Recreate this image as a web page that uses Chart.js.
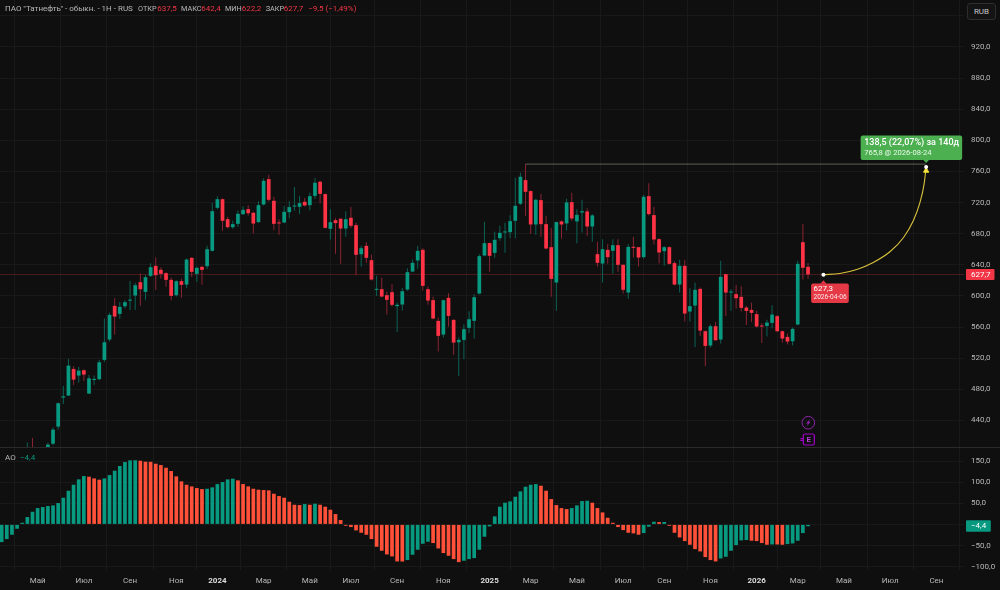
<!DOCTYPE html>
<html lang="ru">
<head>
<meta charset="utf-8">
<title>ПАО "Татнефть" - обыкн.</title>
<script src="https://cdn.jsdelivr.net/npm/chart.js@4"></script>
<style>
  html, body { margin: 0; padding: 0; background: #0f0f0f; }
  #wrap { position: relative; width: 1000px; height: 590px; overflow: hidden; font-family: Roboto, sans-serif; }
  canvas { position: absolute; left: 0; }
  #priceChart { top: 0; }
  #aoChart { top: 448px; }
  #sep { position: absolute; left: 0; top: 447px; width: 1000px; height: 1px; background: #2a2a2a; }
  .t { position: absolute; font-size: 8px; line-height: 12px; white-space: nowrap; color: #b8b8b8; }
  .c { font-size: 7.3px; }
  .red { color: #f23645; }
  .green { color: #089981; }
  #rub { position: absolute; left: 967px; top: 3px; width: 29px; height: 17px; line-height: 15px; box-sizing: border-box;
         border: 1px solid #2e2e2e; border-radius: 3px; background: #141414; color: #c8c8c8; font-size: 8px; text-align: center; }
</style>
</head>
<body>
<div id="wrap">
  <canvas id="priceChart" width="1000" height="448"></canvas>
  <canvas id="aoChart" width="1000" height="142"></canvas>
  <div id="sep"></div>
  <div class="t" style="left:5px;top:3px">ПАО "Татнефть" - обыкн. - 1Н - RUS</div>
  <div class="t c" style="left:138px;top:3px">ОТКР</div><div class="t red" style="left:157.3px;top:3px">637,5</div>
  <div class="t c" style="left:181px;top:3px">МАКС</div><div class="t red" style="left:201.3px;top:3px">642,4</div>
  <div class="t c" style="left:225px;top:3px">МИН</div><div class="t red" style="left:241.7px;top:3px">622,2</div>
  <div class="t c" style="left:265.7px;top:3px">ЗАКР</div><div class="t red" style="left:283.7px;top:3px">627,7</div>
  <div class="t red" style="left:308.3px;top:3px">−9,5 (−1,49%)</div>
  <div class="t" style="left:5px;top:452px">AO</div><div class="t green" style="left:20px;top:452px">−4,4</div>
  <div id="rub">RUB</div>
</div>
<script>
// weekly candles
const opens = [
  372,375,378,383,389,394,403,402,399,403.8,
  410.2,432.1,469.4,472,506.2,497.7,504.5,474.5,492,493,
  517.8,544,587.3,577,586.8,594,600.6,617.7,605.3,625.8,
  638.7,633.6,629.3,620.7,601,619,614.7,649,628.4,637.4,
  638.3,658,713.3,724.4,698.7,688.4,692.7,705.1,711.6,706.9,
  694.9,717.6,750.2,722.3,694,694.4,707.7,715,714.6,721,
  716.7,728.7,746.8,730.9,686.3,697.4,699.2,686.7,700.5,691,
  653.7,664.4,646,607.9,608.7,601,604.9,586.9,589,608.3,
  631.4,645.6,659.3,608.7,594.6,568,550.4,597.6,569.3,540.5,
  543.5,559,568,603.1,652,667.9,655.4,674.3,681.6,682,
  696.6,718.5,748.9,734.8,691.9,723.2,692.3,662.7,617.3,695.8,
  693.2,720.6,695.8,707.3,708.6,689.3,653.7,641.7,659.3,658,
  665.3,640,604.4,663.1,662.7,649.9,728.3,703.9,673,657.6,
  662.7,642.2,614.7,638.7,580,587.7,609.1,554.7,536.3,561.1,
  544,628,604.4,602.3,598.9,585.1,582.1,576.6,561.5,561.5,
  565.4,574,554.7,547.4,541.8,563.3,669.1,637.5
];
const highs = [
  378,381,386,392,396,411.6,417.5,406,406,411.5,
  430.8,463,484.4,519.1,509.7,508.8,505.8,498.5,497.7,517.8,
  571,578.3,597.1,592.4,594.6,619.4,617,628.8,627,642.1,
  649.4,637,630.6,623.3,620.3,622,648.6,649.8,637.8,638.7,
  664.4,719.7,728.3,725.3,701.7,696.6,709.9,715.4,716.7,708.1,
  721.9,751.4,755.7,727.5,698.7,715.5,721.9,739.9,728.7,725.8,
  732.6,751.5,748,731.7,711.6,700,700,709,714.2,694,
  664.4,669.1,652.9,625.9,623.3,605.3,615.1,591.6,610.4,635.7,
  646.9,664.4,661.4,611.7,598.9,572.3,595,603.6,570.1,546.5,
  563.7,580.4,602.3,653.7,695.3,668.7,682.4,690.2,694,703.9,
  751.9,758.3,769.5,735.6,724.9,730.9,703,687.2,695.8,697,
  724.9,732.6,711.6,723.6,712.9,705.2,669.6,673,666.6,673,
  673,640.9,666.6,676,663,730,745,714.6,673.9,664,
  663.6,644.7,646.4,646.4,610,616.9,610.8,555.5,563.3,566.7,
  645.2,628,608.7,614.3,612.6,587.3,591.2,580.9,565,569.3,
  588.1,575.7,555.5,551.7,559.4,645.2,692.7,642.4
];
const lows = [
  366,370,374,380,385,390,392,396,396,400,
  408.5,428.2,461.2,471.5,485.7,488.7,490.8,474,485.7,492,
  515.2,541.4,550.4,570.6,583.8,582,582,587.3,594.6,624.5,
  607.8,622.4,611.7,594.6,599.3,597.6,610.4,624.5,618.1,614.3,
  634.8,657.1,711.6,683.7,686.7,686.3,688.9,704.3,703.4,680.3,
  694,716.3,721.4,684.6,678.6,693.6,700,709.5,705.2,715,
  710.3,724.5,719.3,686.7,672.6,654.2,641.3,676,687.2,626.7,
  637.4,642.6,619.9,600.1,598.4,576.1,586.4,553.8,581.3,606.6,
  630.6,634.9,607,588.6,570.1,528.5,546.5,560.3,524.3,497.2,
  518.7,552.5,545.3,602.3,651.2,631,649,670.9,655.4,674.3,
  674.3,716.8,703,679.5,678.6,676,660,598.9,580.9,673.4,
  684.2,696.6,667.9,681.6,677.3,669.6,637.4,617.3,641.3,628.4,
  631,603.2,596.3,649.4,637.9,647.7,703.5,666.2,641.7,638.7,
  640.4,613.9,604.4,567.1,567.1,534.5,548.7,510.1,533.7,542.3,
  538.8,574.4,580.9,583.8,580,562.8,566.7,559.4,539.7,547.8,
  558.1,553.8,540.1,537.5,536.3,562.4,621.1,622.2
];
const closes = [
  375,378,383,389,393,403,398,399,403,409,
  428.2,462.1,471,510.5,492.5,504.1,499,494.2,493.4,514.8,
  540.5,575.7,573.6,586,592,595,613.8,608.7,624.1,637,
  626.7,628.4,620.7,600.1,619,614.3,646.8,631,636.1,633.6,
  660.1,709,724.4,696.6,688.4,692.3,705.6,710.7,706.4,693.1,
  716.7,748,723.6,692.7,693.2,708.2,714.2,715.9,719.3,716.3,
  728.3,745.5,731.3,687.6,694.9,693.6,686.7,698.7,690.2,652.9,
  661.4,649,621.1,609.1,599.3,595,588.6,588.6,606.1,630.6,
  642.6,658,613,594.1,571,548.7,594.6,574.4,540.1,543.5,
  557.3,570.1,598.4,651.2,667.9,651.6,672.2,681.2,682.9,696.2,
  715.9,753.2,733.9,691.9,723.6,692.3,661,622,694.9,691.9,
  720.2,699.6,704.3,709,689.3,703.5,642.6,660.1,649.9,665.3,
  640,607.9,663.1,661.9,649.4,727.5,705.2,672.6,655.9,662.7,
  641.3,614.7,638.7,577.4,586.9,607.9,555.5,535.8,561.1,543.1,
  624.6,604.4,605.3,597.1,584.7,580.8,578.3,560.7,560.7,565.8,
  576.1,554.7,545.3,541.4,557.7,641.3,636.2,627.7
];
// awesome oscillator
const aoValues = [
  -41.9,-34.8,-24.5,-10.3,4,17.4,30,38.7,41.1,43.5,
  45,50.6,63.2,79.8,94,106.7,114.6,113,109,105.9,
  109,116.9,127.2,138.3,147.7,151.7,151.9,150.9,148.5,148.3,
  143.8,140.6,134.3,126.4,113.8,101.9,94,90,86.1,83.7,
  84.5,87.7,95.6,100.3,106.7,108.2,104.3,95.6,90,84.5,
  82.2,81.4,80.6,72.7,67.2,63.2,53.7,46.6,45.8,48.2,
  46.6,49,46.6,41.9,34.8,24.5,10.3,-3.2,-6.3,-14.2,
  -19.8,-24.5,-34.8,-52.9,-62.4,-71.1,-75.8,-87.7,-87.9,-84.5,
  -71.9,-60,-45.8,-41.1,-44.2,-56.9,-67.9,-74.3,-82.2,-89.3,
  -86.1,-82.2,-79.8,-60,-29.2,-4.7,19,41.9,51.4,54.5,
  65.6,78.2,89.3,94,95.6,91.6,79.8,60,45.8,38.7,
  36.3,38.7,45,55.3,56.1,51.4,38.7,28.4,15.8,4,
  -6.3,-13.4,-19.8,-21.3,-24.5,-20.5,-5.5,6.3,5.5,5.8,
  -3.2,-19.8,-30.8,-39.5,-48.2,-58.5,-64,-77.4,-84.5,-87.7,
  -80.6,-76.6,-62.4,-49,-37.9,-37.1,-38.7,-39.5,-44.2,-48.2,
  -47.4,-47.5,-48.2,-46.6,-45,-38.7,-20.5,-4.4
];
const xTickIndex = [7,16,25,34,42,51,60,68,77,86,95,103,112,121,129,138,147,155,164,173,182];
const xTickLabels = ['Май','Июл','Сен','Ноя','2024','Мар','Май','Июл','Сен','Ноя','2025','Мар','Май','Июл','Сен','Ноя','2026','Мар','Май','Июл','Сен'];
const lastClose = 627.7;
const lastAo = -4.4;
// forecast drawing
const arcX = [160,163.2,166.5,169.7,173,175.6,177.5,178.8,179.6,180];
const arcY = [627.3,628.9,634,643,657.1,675.2,696.6,720.2,743.8,765.8];
const levelX = [102,180];
const levelY = [769.5,769.5];

const UP = '#089981', DOWN = '#ff3346';
const UP_WICK = '#0b6356', DOWN_WICK = '#8a2433';
const AO_UP = '#089981', AO_DOWN = '#ff5039';
const TXT = '#b8b8b8', GRID = '#191919';
const FONT = 'Roboto, sans-serif';
const X_MIN = -0.325, X_MAX = 187.37;

function fmt(v) {
  return v.toFixed(1).replace('.', ',').replace('-', '−');
}
const indexes = opens.map((o, i) => i);
const isYear = (c) => !!c.tick && /^20/.test(c.tick.label);

function fixedAxis(scale, size) {
  if (scale.isHorizontal()) scale.height = size; else scale.width = size;
  scale.paddingLeft = scale.paddingRight = scale.paddingTop = scale.paddingBottom = 0;
}

function xAxis(showLabels) {
  return {
    type: 'linear', min: X_MIN, max: X_MAX, offset: false,
    border: { display: false },
    grid: { color: GRID, drawTicks: false },
    afterBuildTicks: (axis) => { axis.ticks = xTickIndex.map(v => ({ value: v })); },
    afterFit: (scale) => fixedAxis(scale, showLabels ? 20 : 0),
    ticks: {
      display: showLabels, autoSkip: false, maxRotation: 0, padding: 6,
      callback: (v, i) => xTickLabels[i],
      color: (c) => isYear(c) ? '#dcdcdc' : TXT,
      font: (c) => ({ family: FONT, size: 8, weight: isYear(c) ? 'bold' : 'normal' })
    }
  };
}

function yAxis(min, max, step, hidden) {
  return {
    position: 'right', min: min, max: max,
    border: { display: false },
    grid: { color: GRID, drawTicks: false },
    afterFit: (scale) => fixedAxis(scale, 36),
    ticks: {
      stepSize: step, includeBounds: false, padding: 7, align: 'center', crossAlign: 'near',
      color: TXT, font: { family: FONT, size: 8 },
      callback: (v) => v === hidden ? '' : fmt(v)
    }
  };
}

function tag(ctx, x, y, w, h, r, color) {
  ctx.fillStyle = color;
  ctx.beginPath();
  ctx.roundRect(x, y, w, h, r);
  ctx.fill();
}

function label(ctx, text, x, y, font, color, align) {
  ctx.font = font;
  ctx.fillStyle = color;
  ctx.textAlign = align || 'left';
  ctx.textBaseline = 'middle';
  ctx.fillText(text, x, y);
}

const priceLabels = {
  id: 'priceLabels',
  afterDraw(chart) {
    const ctx = chart.ctx, xs = chart.scales.x, ys = chart.scales.y;
    ctx.save();

    // last price on the axis
    const py = ys.getPixelForValue(lastClose);
    tag(ctx, 966, py - 5.5, 28.5, 11, 1, '#f23645');
    label(ctx, fmt(lastClose), 971, py + 0.3, '8px ' + FONT, '#fff');

    // forecast end box
    const ex = xs.getPixelForValue(arcX[arcX.length - 1]);
    const ey = ys.getPixelForValue(arcY[arcY.length - 1]);
    tag(ctx, ex - 65.5, ey - 31.5, 101.5, 24.5, 2, '#4caf50');
    ctx.beginPath();
    ctx.moveTo(ex - 3, ey - 7.2); ctx.lineTo(ex + 3, ey - 7.2); ctx.lineTo(ex, ey - 4);
    ctx.fill();
    label(ctx, '138,5 (22,07%) за 140д', ex - 62, ey - 24.3, '500 9px ' + FONT, '#fff');
    label(ctx, '765,8 @ 2026-08-24', ex - 62, ey - 14.3, '7.6px ' + FONT, '#eafbea');

    // forecast start box
    const sx = xs.getPixelForValue(arcX[0]);
    const sy = ys.getPixelForValue(arcY[0]);
    tag(ctx, sx - 12.3, sy + 8.8, 37.7, 19.4, 2, '#e53946');
    ctx.beginPath();
    ctx.moveTo(sx - 3, sy + 9); ctx.lineTo(sx + 3, sy + 9); ctx.lineTo(sx, sy + 5.5);
    ctx.fill();
    label(ctx, '627,3', sx - 10, sy + 14, '8px ' + FONT, '#fff');
    label(ctx, '2026-04-06', sx - 10, sy + 22.6, '6.6px ' + FONT, '#fde6e8');

    // event marks over the last candle
    const mx = xs.getPixelForValue(opens.length - 1) + 0.3;
    ctx.strokeStyle = '#8e24aa';
    ctx.lineWidth = 1;
    ctx.beginPath();
    ctx.arc(mx, 422.7, 6.3, 0, Math.PI * 2);
    ctx.stroke();
    ctx.fillStyle = '#8e24aa';
    ctx.beginPath();
    ctx.moveTo(mx + 2.2, 418.6); ctx.lineTo(mx - 2.4, 423.6); ctx.lineTo(mx - 0.2, 423.6);
    ctx.lineTo(mx - 2, 426.8); ctx.lineTo(mx + 2.4, 421.8); ctx.lineTo(mx + 0.2, 421.8);
    ctx.closePath();
    ctx.fill();

    ctx.strokeStyle = '#a000c8';
    ctx.lineWidth = 1.2;
    ctx.beginPath();
    ctx.roundRect(mx - 5, 434, 11, 11, 1.5);
    ctx.moveTo(mx - 8, 438.7); ctx.lineTo(mx - 5, 438.7);
    ctx.moveTo(mx - 8, 440.5); ctx.lineTo(mx - 5, 440.5);
    ctx.stroke();
    label(ctx, 'E', mx + 0.5, 439.8, 'bold 8px ' + FONT, '#b23cd6', 'center');
    ctx.restore();
  }
};

const aoLabels = {
  id: 'aoLabels',
  afterDraw(chart) {
    const ctx = chart.ctx, ys = chart.scales.y;
    const py = ys.getPixelForValue(0) + 1.6;
    ctx.save();
    tag(ctx, 966, py - 5.8, 24.8, 11.6, 1, '#089981');
    label(ctx, fmt(lastAo), 971, py + 0.3, '8px ' + FONT, '#fff');
    ctx.restore();
  }
};

const xy = (xs, ys) => xs.map((x, i) => ({ x: x, y: ys[i] }));

new Chart(document.getElementById('priceChart'), {
  type: 'bar',
  data: {
    datasets: [
      {
        label: 'last', type: 'line', order: 5, data: xy([X_MIN, X_MAX], [lastClose, lastClose]),
        borderColor: 'rgba(242,54,69,0.28)', borderWidth: 1, pointRadius: 0
      },
      {
        label: 'wicks', order: 4, grouped: false, maxBarThickness: 1,
        data: indexes.map(i => ({ x: i, y: [lows[i], highs[i]] })),
        backgroundColor: indexes.map(i => closes[i] >= opens[i] ? UP_WICK : DOWN_WICK)
      },
      {
        label: 'bodies', order: 3, grouped: false, maxBarThickness: 3.9, minBarLength: 1,
        data: indexes.map(i => ({ x: i, y: [opens[i], closes[i]] })),
        backgroundColor: indexes.map(i => closes[i] >= opens[i] ? UP : DOWN)
      },
      {
        label: 'level', type: 'line', order: 2, data: xy(levelX, levelY),
        borderColor: '#5f5f54', borderWidth: 1, pointRadius: 0
      },
      {
        label: 'arc', type: 'line', order: 1, data: xy(arcX, arcY),
        borderColor: '#d9c23c', borderWidth: 1.1, cubicInterpolationMode: 'monotone', pointRadius: 0
      },
      {
        label: 'arrow', type: 'line', order: 0, showLine: false,
        data: [{ x: arcX[arcX.length - 1], y: 761 }],
        pointStyle: 'triangle', pointRadius: 3, backgroundColor: '#f5e23c', borderColor: '#f5e23c'
      },
      {
        label: 'ends', type: 'line', order: -1, showLine: false,
        data: [{ x: arcX[0], y: arcY[0] }, { x: arcX[arcX.length - 1], y: arcY[arcY.length - 1] }],
        pointRadius: 2, backgroundColor: '#fff', borderColor: '#fff', borderWidth: 0
      }
    ]
  },
  options: {
    responsive: false, animation: false, devicePixelRatio: 1,
    layout: { padding: 0, autoPadding: false },
    plugins: { legend: { display: false }, tooltip: { enabled: false } },
    scales: { x: xAxis(false), y: yAxis(404.6, 980.4, 40, 960) }
  },
  plugins: [priceLabels]
});

new Chart(document.getElementById('aoChart'), {
  type: 'bar',
  data: {
    datasets: [{
      label: 'AO', grouped: false, maxBarThickness: 4.9,
      data: indexes.map(i => ({ x: i, y: aoValues[i] })),
      backgroundColor: indexes.map(i => (i === 0 || aoValues[i] >= aoValues[i - 1]) ? AO_UP : AO_DOWN)
    }]
  },
  options: {
    responsive: false, animation: false, devicePixelRatio: 1,
    layout: { padding: 0, autoPadding: false },
    plugins: { legend: { display: false }, tooltip: { enabled: false } },
    scales: { x: xAxis(true), y: yAxis(-108, 181, 50) }
  },
  plugins: [aoLabels]
});
</script>
</body>
</html>
